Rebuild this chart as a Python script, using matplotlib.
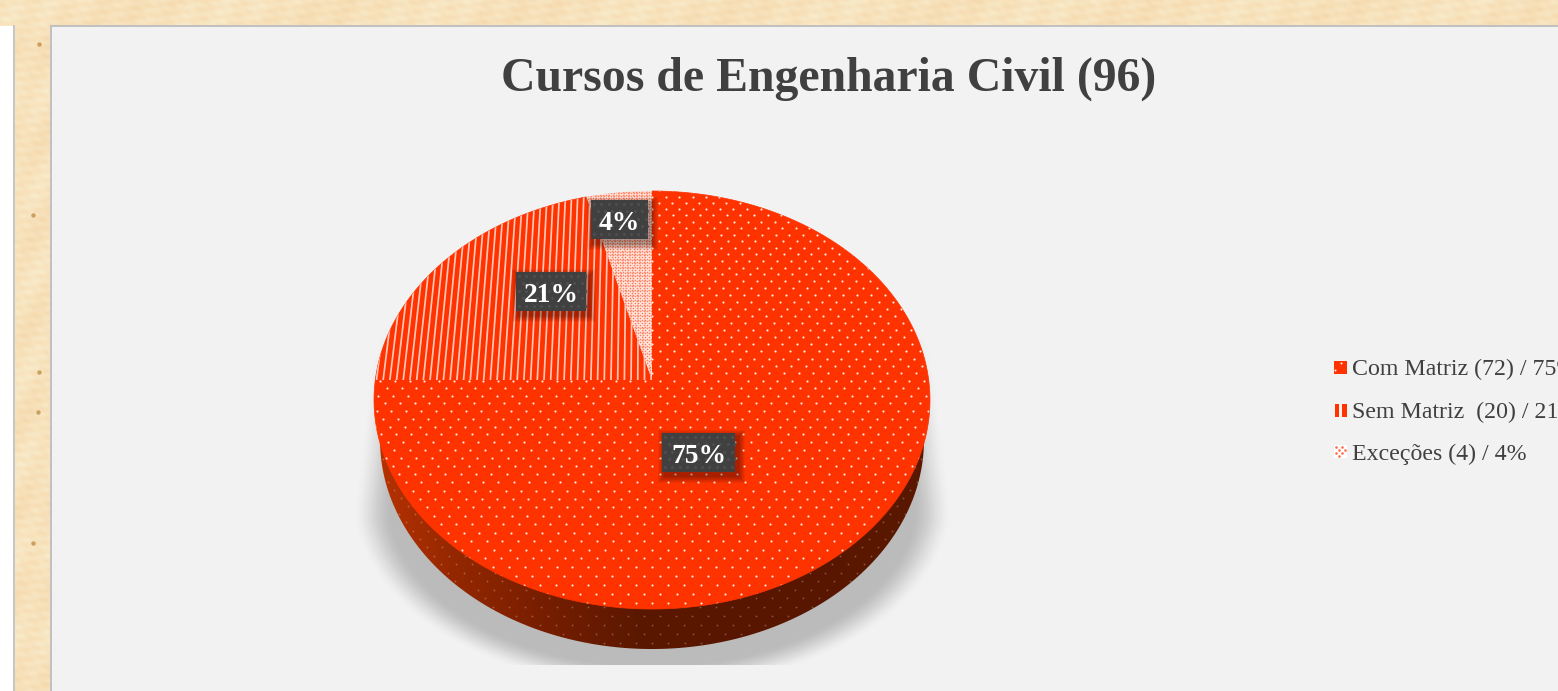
import numpy as np
import matplotlib
matplotlib.use("Agg")
import matplotlib.pyplot as plt
from matplotlib.patches import Polygon, Rectangle
from matplotlib.collections import LineCollection

# ---- chart data ----
title = "Cursos de Engenharia Civil (96)"
categories = ["Com Matriz (72) / 75%", "Sem Matriz  (20) / 21%", "Exceções (4) / 4%"]
counts = [72, 20, 4]
pct_labels = ["75%", "21%", "4%"]
red = "#ff3300"
W, H = 1558, 691

fig = plt.figure(figsize=(W / 100, H / 100), dpi=100)
ax = fig.add_axes([0, 0, 1, 1])
ax.axis("off")
serif = "Liberation Serif"

# ---- page background ----
yy, xx = np.mgrid[0:H, 0:W]
mott = (np.sin(xx * .13 + yy * .37) * np.sin(xx * .05 - yy * .29) +
        .5 * np.sin(xx * .41 - yy * .53) * np.sin(xx * .11 + yy * .23) +
        .5 * np.sin(xx * .031 + yy * .07))
bg = np.zeros((H, W, 3))
bg[..., 0] = (247 + 1 * mott) / 255
bg[..., 1] = (226 + 5 * mott) / 255
bg[..., 2] = (188 + 8 * mott) / 255
bg[26:, :13] = 1
bg[25:, 13:15] = .78
bg[25:27, 50:] = .76
bg[25:, 50:52] = .76
bg[27:, 52:] = 242 / 255
ax.imshow(bg, extent=(0, W, H, 0), aspect="auto", zorder=0, interpolation="bilinear")
speck_x = [39, 33, 39, 38, 33]
speck_y = [44, 215, 372, 412, 543]
ax.scatter(speck_x, speck_y, s=10, color="#c08f48", alpha=.8, linewidths=0, zorder=1)

# ---- projection of the pie plane ----
cx, cy, a, b, c = 652, 380, 207.1, 0.0957, 276.7
def project(u, v):
    d = 1 + b * v
    return cx + c * u / d, cy - a * v / d

def wedge(t0, t1):
    t = np.linspace(t0, t1, 300)
    x, y = project(np.sin(t), np.cos(t))
    return np.column_stack([np.r_[cx, x], np.r_[cy, y]])

fr = np.cumsum([0] + counts) / sum(counts) * 2 * np.pi
rim = wedge(0, 2 * np.pi)[1:]
rim_lo = np.column_stack([cx + (rim[:, 0] - cx) * 272 / 278, rim[:, 1] + 40])

# ---- soft shadow ----
sy, sx = np.mgrid[320:665, 340:965]
rx = 280 + np.clip((sy - 340) / 180, 0, 1) * 22
dx = np.abs(sx - cx) / rx
dy = np.clip(sy - 500, 0, None) / 190
rho = np.sqrt(dx ** 2 + dy ** 2)
al = np.clip((1 - rho) / .14, 0, 1)
al = al * al * (3 - 2 * al) * np.clip((sy - 325) / 60, 0, 1) * .23
simg = np.zeros(sy.shape + (4,))
simg[..., 3] = al
ax.imshow(simg, extent=(340, 965, 665, 320), aspect="auto", zorder=2)

# ---- side wall ----
xs = np.array([375, 450, 540, 640, 760, 930])
rs = np.array([184, 150, 120, 90, 88, 90])
gs = np.array([50, 40, 30, 24, 22, 24])
gx = np.arange(370, 935)
side = np.zeros((1, gx.size, 3))
side[0, :, 0] = np.interp(gx, xs, rs) / 255
side[0, :, 1] = np.interp(gx, xs, gs) / 255
im = ax.imshow(side, extent=(370, 935, 660, 420), aspect="auto", zorder=3)
side_poly = Polygon(rim_lo, closed=True, transform=ax.transData, fc="none", ec="none")
ax.add_patch(side_poly)
im.set_clip_path(side_poly)

# ---- dot texture helper (in the pie plane) ----
def plane_dots(du, dv):
    vals, uals = [], []
    for i, v in enumerate(np.arange(-1.3, 1.3, dv)):
        us = np.arange(-1.3 + (i % 2) * du / 2, 1.3, du)
        uals.append(us)
        vals.append(np.full(us.shape, v))
    return project(np.concatenate(uals), np.concatenate(vals))

# side-wall dots
gx2, gy2 = plane_dots(.0531, .036)
sc = ax.scatter(gx2, gy2 + 40, s=1.8, color="white", alpha=.25, linewidths=0, zorder=4)
sc.set_clip_path(side_poly)

# ---- top face ----
p0 = Polygon(wedge(fr[0], fr[1]), closed=True, fc=red, ec=red, lw=.5, zorder=5)
p1 = Polygon(wedge(fr[1], fr[2]), closed=True, fc=red, ec=red, lw=.5, zorder=5)
p2 = Polygon(wedge(fr[2], fr[3]), closed=True, fc="#fff0ea", ec="none", zorder=5)
for p in (p0, p1, p2):
    ax.add_patch(p)

sc0 = ax.scatter(gx2, gy2, s=2.4, color="white", alpha=.9, linewidths=0, zorder=6)
sc0.set_clip_path(p0)

us = np.arange(-1.02, .2, 6.7 / c)
segs = [np.column_stack(project(np.full(40, u), np.linspace(-.05, 1.05, 40))) for u in us]
lc = LineCollection(segs, colors="white", linewidths=1.25, alpha=.72, zorder=6)
ax.add_collection(lc)
lc.set_clip_path(p1)

gx3, gy3 = plane_dots(3.6 / c, 1.8 / a)
sc2 = ax.scatter(gx3, gy3, s=1.6, color="#ff5a30", alpha=.75, linewidths=0, zorder=6)
sc2.set_clip_path(p2)

# ---- data labels ----
boxes = [(662, 433, 73, 39), (516, 272, 70, 39), (591, 200, 57, 39)]
for (bx, by, bw, bh), lab in zip(boxes, pct_labels):
    for g in np.arange(7, 0, -1):
        ax.add_patch(Rectangle((bx + 3 - g, by + 4 - g), bw + 2 * g, bh + 2 * g,
                               fc="black", ec="none", alpha=.055, zorder=7))
    box = Rectangle((bx, by), bw, bh, fc="#404040", ec="none", zorder=8)
    ax.add_patch(box)
    tx = np.arange(bx + 3, bx + bw, 7.4)
    ty = np.arange(by + 4, by + bh, 7.4)
    tg = np.array([(x + (j % 2) * 3.7, y) for j, y in enumerate(ty) for x in tx])
    dots = ax.scatter(tg[:, 0], tg[:, 1], s=5, color="#4e4e4e", linewidths=0, zorder=9)
    dots.set_clip_path(box)
    ax.text(bx + bw / 2, by + bh / 2 + 1, lab, family=serif, weight="bold", color="white",
            fontsize=19.8, ha="center", va="center_baseline", zorder=10)

# ---- title ----
ax.text(829, 74, title, family=serif, weight="bold", color="#404040", fontsize=34.4,
        ha="center", va="center_baseline", zorder=10)

# ---- legend ----
leg_y = [367, 410, 452]
for yc, lab in zip(leg_y, categories):
    ax.text(1352, yc, lab, family=serif, color="#404040", fontsize=17.2, ha="left",
            va="center_baseline", zorder=10, clip_on=True)
k0 = Rectangle((1334, leg_y[0] - 6), 13, 13, fc=red, ec="none", zorder=6)
ax.add_patch(k0)
ax.scatter([1341, 1335], [leg_y[0] - 4, leg_y[0] + 3], s=2, color="white", linewidths=0, zorder=7)
ax.add_patch(Rectangle((1335.5, leg_y[1] - 6), 4, 13, fc=red, ec="none", zorder=6))
ax.add_patch(Rectangle((1342, leg_y[1] - 6), 5, 13, fc=red, ec="none", zorder=6))
ax.add_patch(Rectangle((1334, leg_y[2] - 7), 13, 13, fc="white", ec="none", zorder=6))
kx = [1336, 1342, 1339, 1345, 1336, 1342, 1339]
ky = [-5, -5, -2, -2, 1, 1, 4]
ax.scatter(kx, [leg_y[2] + d for d in ky], s=3.5, color="#ff6a45", linewidths=0, zorder=7)

ax.set_xlim(0, W)
ax.set_ylim(H, 0)
fig.savefig("out.png", dpi=100)
